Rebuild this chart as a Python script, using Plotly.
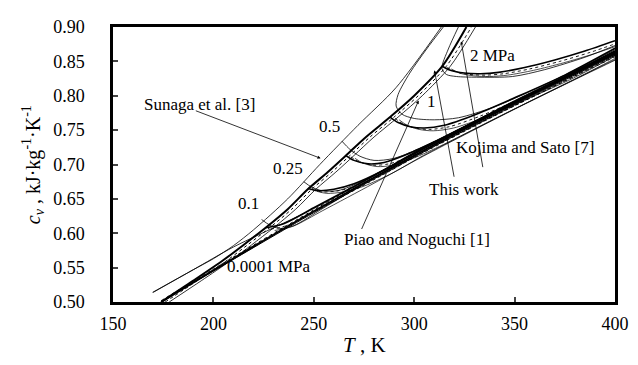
import plotly.graph_objects as go

# ---------------- data (T in K, cv in kJ/kg/K) ----------------
# ideal-gas-like low pressure bundle (0.0001 MPa, several models)
T_low = [174, 200, 250, 300, 350, 400]
cv_low_this = [0.500, 0.546, 0.632, 0.713, 0.789, 0.861]
cv_low_koj = [0.502, 0.548, 0.634, 0.716, 0.792, 0.864]
cv_low_piao = [0.501, 0.545, 0.630, 0.711, 0.787, 0.859]
T_low_sun = [170, 190, 210, 250, 300, 350, 400]
cv_low_sun = [0.514, 0.547, 0.580, 0.636, 0.716, 0.792, 0.864]

# saturated vapour lines
T_sat_sun = [169.7, 190, 200, 210, 220, 237, 253, 272, 291, 313.5]
cv_sat_sun = [0.514, 0.547, 0.563, 0.582, 0.605, 0.650, 0.700, 0.757, 0.812, 0.900]
T_sat_this = [174, 190, 205, 215, 226, 237, 247, 257, 266, 276, 288, 300, 314, 326]
cv_sat_this = [0.500, 0.531, 0.561, 0.583, 0.608, 0.635, 0.664, 0.689, 0.713, 0.740, 0.769, 0.800, 0.843, 0.900]
T_sat_koj = [176, 192, 207, 217, 228, 239, 249, 259, 268, 278, 290, 302, 316, 328.5]
T_sat_piao = [178, 194, 209, 219, 230, 241, 251, 261, 270, 280, 292, 304, 318, 330.5]

# isobars, this work
T_p01 = [226, 235, 250, 275, 300, 350, 400]
cv_p01 = [0.608, 0.614, 0.637, 0.676, 0.716, 0.791, 0.862]
T_p025 = [247, 252, 260, 270, 285, 300, 330, 360, 400]
cv_p025 = [0.665, 0.662, 0.664, 0.672, 0.692, 0.717, 0.762, 0.806, 0.863]
T_p05 = [266, 270, 277, 285, 295, 310, 340, 370, 400]
cv_p05 = [0.713, 0.706, 0.701, 0.703, 0.713, 0.733, 0.777, 0.820, 0.865]
T_p1 = [288, 292, 298, 305, 315, 330, 350, 375, 400]
cv_p1 = [0.769, 0.761, 0.755, 0.753, 0.757, 0.772, 0.797, 0.830, 0.869]
T_p2 = [314, 318, 325, 333, 342, 355, 370, 385, 400]
cv_p2 = [0.843, 0.837, 0.833, 0.832, 0.834, 0.841, 0.852, 0.865, 0.880]

# Sunaga et al. isobars / pressure arcs
T_s01 = [224, 228, 233, 240, 255, 300, 350, 400]
cv_s01 = [0.620, 0.612, 0.607, 0.611, 0.637, 0.715, 0.790, 0.862]
T_s025 = [245, 249, 254, 262, 275, 300, 350, 400]
cv_s025 = [0.675, 0.667, 0.662, 0.662, 0.677, 0.716, 0.790, 0.862]
T_s05 = [264, 268, 273, 280, 290, 310, 350, 400]
cv_s05 = [0.734, 0.722, 0.712, 0.706, 0.709, 0.733, 0.793, 0.865]
T_s1 = [314.5, 306.2, 297.8, 292.0, 291.0, 294.0, 300.0, 310.0, 322.0, 340.0, 370.0, 400.0]
cv_s1 = [0.900, 0.868, 0.833, 0.802, 0.785, 0.773, 0.767, 0.765, 0.768, 0.784, 0.823, 0.867]
T_s2 = [322.0, 317.0, 313.8, 316.0, 321.0, 331.0, 349.0, 365.0, 385.0, 400.0]
cv_s2 = [0.900, 0.868, 0.840, 0.831, 0.828, 0.827, 0.828, 0.838, 0.856, 0.873]

# label text and anchor positions
labels = ["Sunaga et al. [3]", "0.5", "0.25", "0.1", "0.0001 MPa", "2 MPa", "1",
          "Kojima and Sato [7]", "This work", "Piao and Noguchi [1]"]
label_T = [192.9, 257.9, 237.2, 217.5, 227.8, 339.2, 308.6, 355.4, 324.9, 301.2]
label_cv = [0.788, 0.755, 0.694, 0.643, 0.551, 0.859, 0.791, 0.725, 0.664, 0.591]

# pointer lines: (tail T, tail cv) -> (head T, head cv)
arrow_tail_T = [190.5, 273.5, 320.0, 334.3]
arrow_tail_cv = [0.779, 0.604, 0.680, 0.694]
arrow_head_T = [253.4, 302.2, 310.1, 323.4]
arrow_head_cv = [0.709, 0.793, 0.837, 0.879]

x_ticks = [150, 200, 250, 300, 350, 400]
y_ticks = [0.50, 0.55, 0.60, 0.65, 0.70, 0.75, 0.80, 0.85, 0.90]

# ---------------- figure ----------------
fig = go.Figure()

def add(T, cv, width=1.0, dash="solid"):
    fig.add_trace(go.Scatter(x=T, y=cv, mode="lines",
                             line=dict(color="black", width=width, dash=dash, shape="spline", smoothing=0.8),
                             hoverinfo="skip", showlegend=False))

add(T_low, cv_low_this, 2.0)
add(T_low, cv_low_koj, 1.0, "dot")
add(T_low, cv_low_piao, 1.0)
add(T_low_sun, cv_low_sun, 0.8)

add(T_sat_sun, cv_sat_sun, 0.8)
add(T_sat_this, cv_sat_this, 2.0)
add(T_sat_koj, cv_sat_this, 1.0, "dot")
add(T_sat_piao, cv_sat_this, 0.8)

for T, cv in [(T_p01, cv_p01), (T_p025, cv_p025), (T_p05, cv_p05), (T_p1, cv_p1), (T_p2, cv_p2)]:
    add(T, cv, 1.6)
    add([t + 2.5 for t in T], [c - 0.002 for c in cv], 0.9, "dot")
    add([t + 4.5 for t in T], [c - 0.004 for c in cv], 0.7)

for T, cv in [(T_s01, cv_s01), (T_s025, cv_s025), (T_s05, cv_s05), (T_s1, cv_s1), (T_s2, cv_s2)]:
    add(T, cv, 0.8)

font_main = "Liberation Serif, Times New Roman, serif"

for txt, tx, ty in zip(labels, label_T, label_cv):
    fig.add_annotation(x=tx, y=ty, text=txt, showarrow=False,
                       font=dict(family=font_main, size=17, color="black"))

for t0, c0, t1, c1 in zip(arrow_tail_T, arrow_tail_cv, arrow_head_T, arrow_head_cv):
    fig.add_annotation(x=t1, y=c1, ax=t0, ay=c0, axref="x", ayref="y", xref="x", yref="y",
                       text="", showarrow=True, arrowhead=2, arrowsize=0.8, arrowwidth=0.8,
                       arrowcolor="black")

# axis titles
fig.add_annotation(xref="paper", yref="paper", x=0.5, y=-0.158, yanchor="middle",
                   text="<i>T</i> , K", showarrow=False,
                   font=dict(family=font_main, size=21, color="black"))
fig.add_annotation(xref="paper", yref="paper", x=-0.16, y=0.5, xanchor="center",
                   textangle=-90, text="<i>c<sub>v</sub></i> , kJ·kg<sup>-1</sup>·K<sup>-1</sup>",
                   showarrow=False, font=dict(family=font_main, size=20, color="black"))

# the page adds an 8 px body margin, so the figure is sized to fit the window
fig.update_layout(
    width=630, height=357,
    margin=dict(l=105, r=18, t=9, b=63),
    paper_bgcolor="white", plot_bgcolor="white",
    font=dict(family=font_main, size=18, color="black"),
)
fig.update_xaxes(range=[150, 400], tickvals=x_ticks, ticks="inside", ticklen=5, tickwidth=1.5,
                 showline=True, linewidth=2.5, linecolor="black", mirror=True, showgrid=False,
                 zeroline=False, ticklabelstandoff=4)
fig.update_yaxes(range=[0.5, 0.9], tickvals=y_ticks, tickformat=".2f", ticks="inside", ticklen=5,
                 tickwidth=1.5, showline=True, linewidth=2.5, linecolor="black", mirror=True,
                 showgrid=False, zeroline=False, ticklabelstandoff=22)

fig.write_html("out.html")
